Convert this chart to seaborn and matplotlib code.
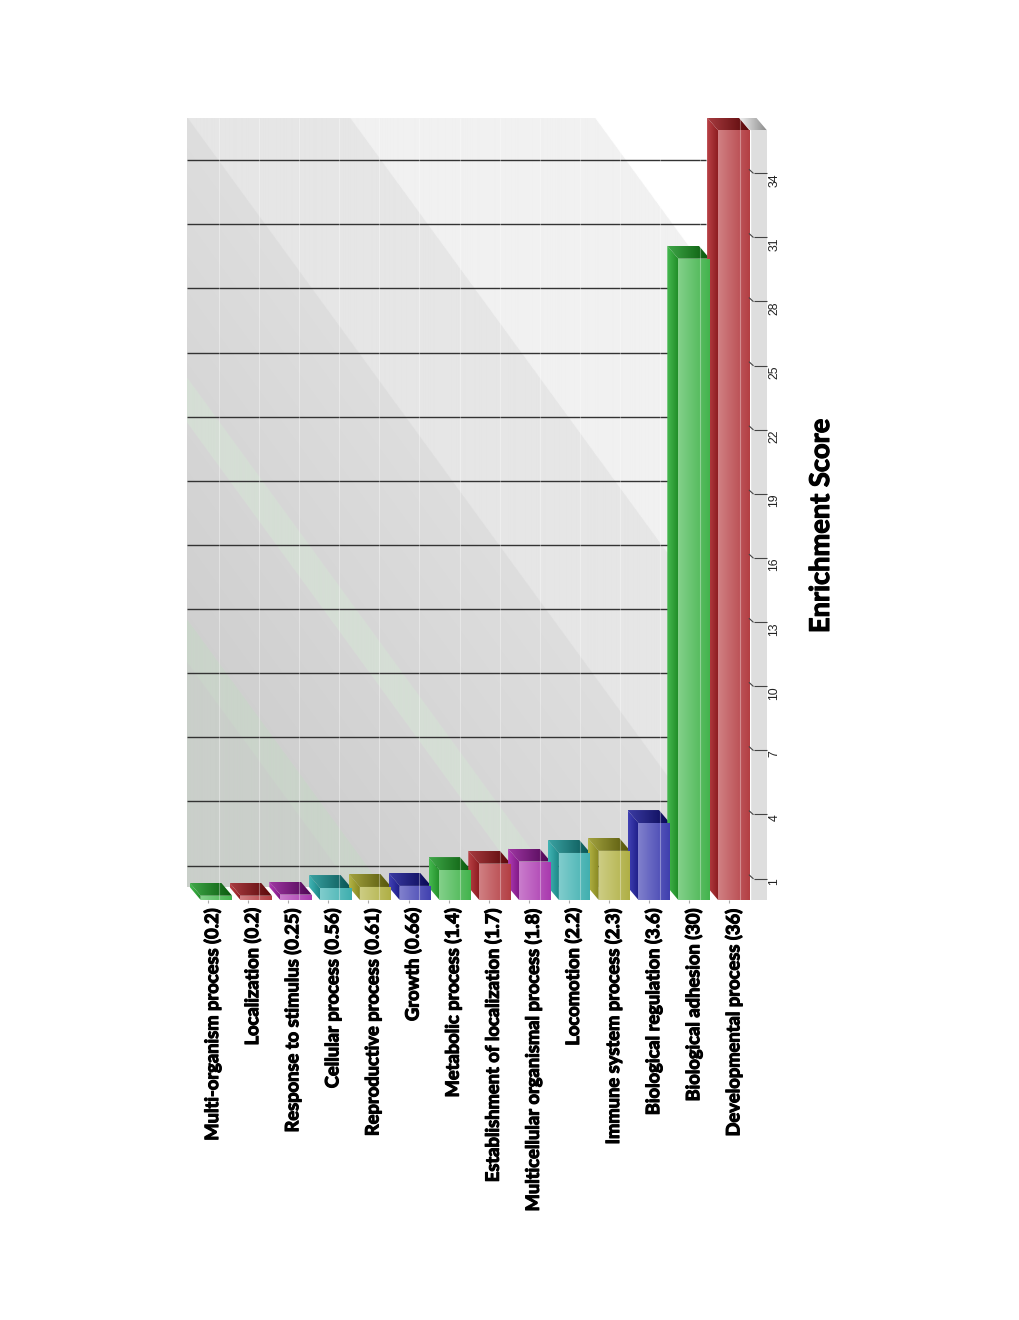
import numpy as np
import matplotlib
matplotlib.use("Agg")
import matplotlib.pyplot as plt
import matplotlib.patheffects as pe
from matplotlib.patches import Polygon
import pandas as pd
import seaborn as sns

# values from the labels, low to high
processes = ["Multi-organism process", "Localization", "Response to stimulus", "Cellular process",
             "Reproductive process", "Growth", "Metabolic process", "Establishment of localization",
             "Multicellular organismal process", "Locomotion", "Immune system process",
             "Biological regulation", "Biological adhesion", "Developmental process"]
scores = [0.2, 0.2, 0.25, 0.56, 0.61, 0.66, 1.4, 1.7, 1.8, 2.2, 2.3, 3.6, 30, 36]
score_labels = ["0.2", "0.2", "0.25", "0.56", "0.61", "0.66", "1.4", "1.7", "1.8", "2.2", "2.3", "3.6", "30", "36"]
y_ticks = [1, 4, 7, 10, 13, 16, 19, 22, 25, 28, 31, 34]

green = "#46b950"
red = "#b94146"
magenta = "#af3cb4"
cyan = "#41b4b4"
yellow = "#b4b446"
blue = "#4141b4"
bar_colors = [green, red, magenta, cyan, yellow, blue, green, red, magenta, cyan, yellow, blue, green, red]

# fake 3d depth of the chart box, in data units
depth_x = -0.276
depth_y = 0.608

sns.set_theme(style="white")
plt.rcParams["font.family"] = ["Lato", "DejaVu Sans"]

fig = plt.figure(figsize=(10.2, 13.2), dpi=100)
ax = fig.add_axes([187 / 1020, 1 - 900 / 1320, 580 / 1020, 782 / 1320])

xlim = (-0.739, 13.834)
ylim = (0, 36.58)

df = pd.DataFrame({"process": processes, "score": scores})
sns.barplot(data=df, x="process", y="score", hue="process", palette=bar_colors, dodge=False,
            width=0.79, saturation=1, legend=False, ax=ax, zorder=3)


def rgb(c):
    return np.array(matplotlib.colors.to_rgb(c))


def shaded(points, left, right, z):
    # polygon with a left to right colour ramp
    poly = Polygon(points, closed=True, fc="none", ec="none", zorder=z)
    ax.add_patch(poly)
    xs = [p[0] for p in points]
    ys = [p[1] for p in points]
    ramp = np.linspace(np.clip(left, 0, 1), np.clip(right, 0, 1), 32)[None, :, :]
    im = ax.imshow(ramp, extent=(min(xs), max(xs), min(ys), max(ys)), aspect="auto",
                   interpolation="bilinear", zorder=z)
    im.set_clip_path(poly)


# back wall with the diagonal shine bands
wall_x0, wall_x1 = xlim[0], 13.1
wall_y0, wall_y1 = depth_y, ylim[1]
gx, gy = np.meshgrid(np.linspace(wall_x0, wall_x1, 1040), np.linspace(wall_y1, wall_y0, 1540))
d = gy + 2.55 * (gx - wall_x0)
gray = 0.815 + (np.clip(d, 13.1, 36.58) - 13.1) / 23.48 * 0.055
wall = np.dstack([gray, gray, gray])
wall[d > 36.58] = rgb("#e6e6e6")
wall[d > 47.0] = rgb("#f1f1f1")
wall[d > 62.7] = rgb("#ffffff")
wall[(d > 22.3) & (d <= 24.4)] = rgb("#d5ded5")
wall[(d > 11.1) & (d <= 13.1)] = rgb("#cad4ca")
wall[d <= 11.1] = rgb("#cacfca")
ax.imshow(wall, extent=(wall_x0, wall_x1, wall_y0, wall_y1), aspect="auto", zorder=0)

# grid lines sit on the back wall
ax.hlines(np.array(y_ticks) + depth_y, wall_x0, 12.3, color="#333333", lw=1.0, zorder=1)

# front strip that carries the value ticks
strip_x0 = (750 - 216.4) / 39.8
strip_x1 = xlim[1]
strip_top = 36
ax.fill_between([strip_x0, strip_x1], 0, strip_top, color="#dedede", lw=0, zorder=2)
shaded([(strip_x0 + depth_x, strip_top + depth_y), (strip_x1 + depth_x, strip_top + depth_y),
        (strip_x1, strip_top), (strip_x0, strip_top)], rgb("#f0f0f0"), rgb("#8c8c8c"), 2)

# depth faces and colour ramps on each bar
for bar, col in zip(ax.patches[:len(scores)], bar_colors):
    c = rgb(col)
    x0, w, h = bar.get_x(), bar.get_width(), bar.get_height()
    x1 = x0 + w
    side = [(x0, 0), (x0 + depth_x, depth_y), (x0 + depth_x, h + depth_y), (x0, h)]
    top = [(x0, h), (x0 + depth_x, h + depth_y), (x1 + depth_x, h + depth_y), (x1, h)]
    shaded(side, c * 1.0, c ** 1.5 * 0.9, 4)
    shaded(top, c * 0.9, c ** 2.4 * 0.75, 4)
    shaded([(x0, 0), (x0, h), (x1, h), (x1, 0)], c + (1 - c) * 0.33, c * 0.97, 5)

# thin pale column lines run over wall and bars
col_pos = np.arange(len(scores)) * 1.0075 + 0.065
ax.vlines(col_pos, 0, ylim[1], color="white", lw=0.8, alpha=0.35, zorder=6)

# small kink at the start of each value tick
for t in y_ticks:
    ax.plot([strip_x0 - 0.02, strip_x0 + 0.08], [t + 0.17, t], color="#444444", lw=0.8, zorder=7)

ax.set_xlim(xlim)
ax.set_ylim(ylim)
ax.set_axisbelow(False)

# labels and their small tick marks do not line up in the original
label_pos = np.arange(len(scores)) * 1.0075 - 0.11
mark_pos = np.arange(len(scores)) * 1.0075 - 0.21
ax.set_xticks(label_pos)
ax.set_xticks(mark_pos, minor=True)
ax.set_xticklabels([f"{p} ({s})" for p, s in zip(processes, score_labels)], rotation=90,
                   ha="center", va="top", fontsize=13.2, fontweight="bold", color="black")
for lab in ax.get_xticklabels():
    lab.set_path_effects([pe.withStroke(linewidth=0.8, foreground="black")])
ax.tick_params(axis="x", which="major", length=2.2, width=0, pad=3, bottom=True)
ax.tick_params(axis="x", which="minor", length=2.2, width=0.8, color="#aaaaaa", bottom=True)

ax.yaxis.tick_right()
ax.set_yticks(y_ticks)
ax.set_yticklabels([str(t) for t in y_ticks], rotation=90, va="top", ha="left",
                   fontsize=8.8, family="Liberation Sans", color="#222222")
ax.tick_params(axis="y", direction="in", length=9.5, width=0.8, color="#444444", pad=1, right=True)

ax.yaxis.set_label_position("right")
ax.set_ylabel("Enrichment Score", rotation=90, fontsize=19.6, fontweight="bold", color="black")
ax.yaxis.set_label_coords((821 - 187) / 580, 0.478)
ax.yaxis.label.set_va("center")
ax.yaxis.label.set_path_effects([pe.withStroke(linewidth=0.8, foreground="black")])
ax.set_xlabel("")
sns.despine(ax=ax, left=True, bottom=True, right=True, top=True)

fig.savefig("out.png", dpi=100, facecolor="white")
